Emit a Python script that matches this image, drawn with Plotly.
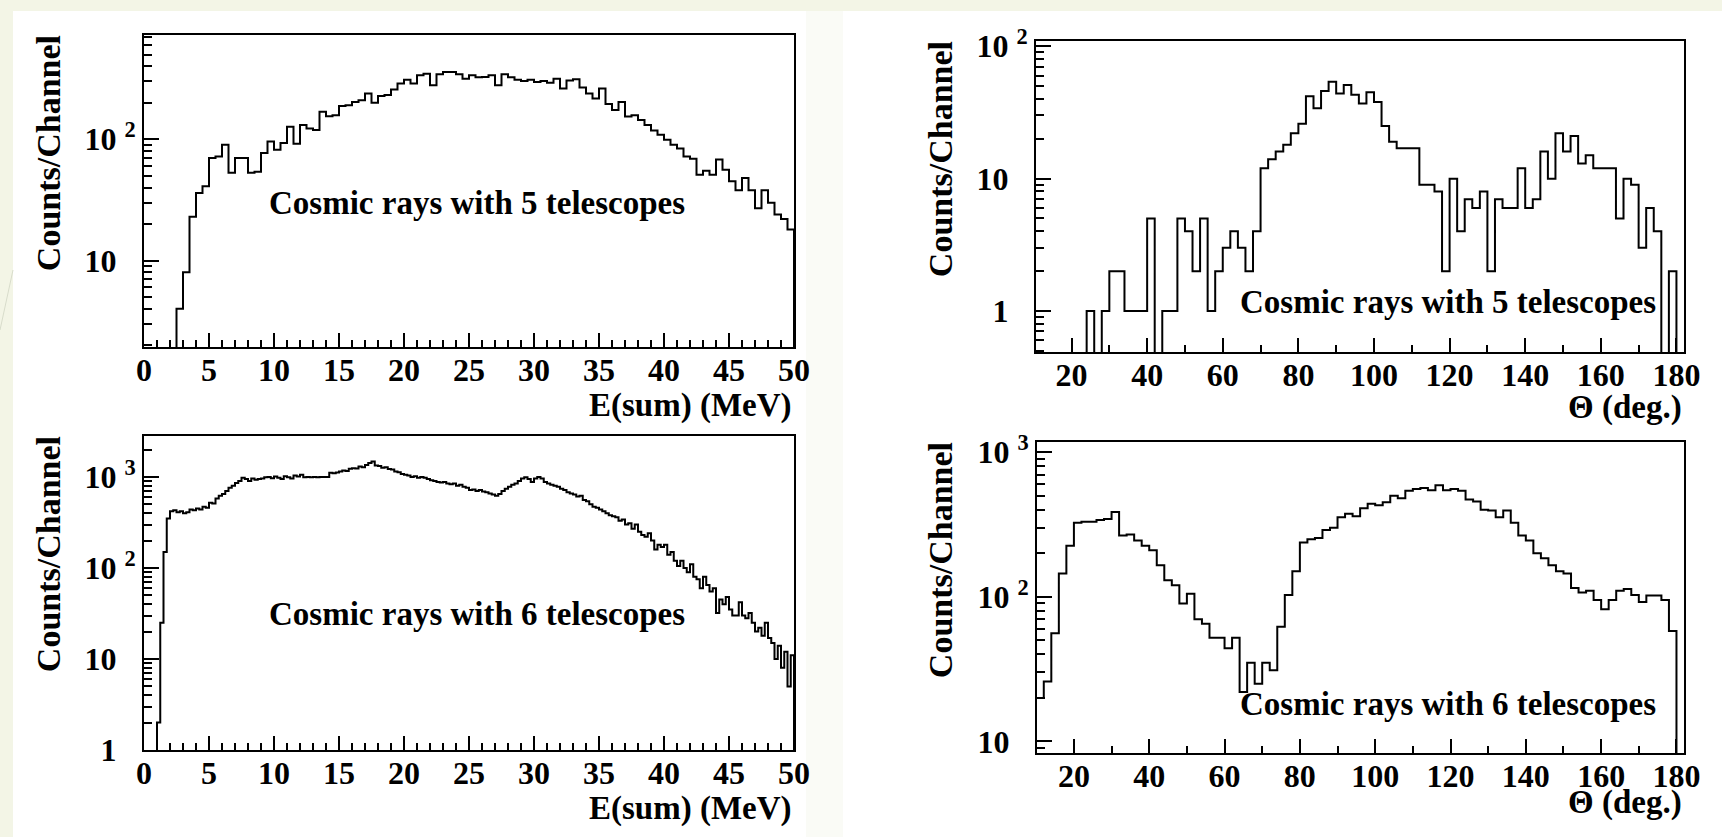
import plotly.graph_objects as go

W, H = 1722, 837

# ---------------- data ----------------
# Top-left: E(sum) with 5 telescopes, 0.5 MeV channels from 0 MeV
e5_start, e5_width = 0.0, 0.5
e5_counts = [0, 0, 0, 0, 0,
             4, 8, 23, 36, 41, 70, 72, 90, 53, 70,
             70, 53, 54, 77, 96, 82, 93, 127, 92, 131,
             123, 119, 169, 155, 158, 188, 191, 203, 210, 238,
             200, 228, 232, 257, 288, 310, 288, 337, 347, 279,
             343, 359, 359, 343, 316, 337, 324, 327, 337, 279,
             343, 324, 310, 303, 310, 297, 303, 292, 316, 262,
             306, 312, 267, 238, 217, 262, 195, 174, 203, 154,
             158, 144, 131, 118, 109, 99, 90, 84, 72, 69,
             51, 55, 51, 68, 56, 45, 38, 48, 38, 27,
             38, 30, 24, 22, 18]

# Bottom-left: E(sum) with 6 telescopes, 0.25 MeV channels from 0 MeV
e6_start, e6_width = 0.0, 0.25
e6_counts = [0, 0, 0, 0,
             2, 25, 150, 350, 420, 430, 410, 420, 400, 410, 440, 430,
             450, 440, 470, 460, 520, 510, 580, 620, 650, 700, 760, 800,
             860, 900, 980, 950, 900, 960, 930, 950, 960, 990, 1000, 970,
             1010, 980, 950, 1020, 990, 960, 1040, 1010, 1060, 990, 1000, 990,
             1000, 990, 1000, 1000, 1000, 1110, 1100, 1120, 1150, 1180, 1160, 1230,
             1250, 1240, 1300, 1280, 1350, 1420, 1480, 1340, 1320, 1260, 1280, 1220,
             1210, 1150, 1130, 1080, 1060, 1040, 1000, 1020, 980, 1000, 980, 950,
             920, 900, 880, 870, 880, 850, 830, 850, 800, 820, 780, 760,
             720, 730, 700, 720, 690, 680, 660, 640, 620, 650, 700, 740,
             780, 820, 850, 900, 960, 990, 950, 880, 960, 1000, 960, 880,
             850, 820, 800, 780, 740, 720, 680, 660, 640, 610, 620, 560,
             540, 500, 470, 460, 440, 420, 400, 380, 370, 360, 330, 340,
             300, 310, 270, 300, 250, 230, 220, 240, 200, 160, 180, 170,
             180, 140, 150, 120, 105, 120, 100, 90, 110, 80, 75, 60,
             80, 65, 55, 60, 32, 45, 40, 48, 35, 30, 30, 42,
             30, 28, 32, 25, 20, 22, 18, 25, 17, 15, 10, 14,
             8, 12, 5, 11]

# Top-right: Theta with 5 telescopes, 2 deg channels from 10 deg
t5_start, t5_width = 10.0, 2.0
t5_counts = [0, 0, 0, 0, 0, 0, 0,
             1, 0, 1, 2, 2, 1, 1, 1, 5, 0, 1, 1, 5, 4, 2, 5, 1, 2, 3, 4, 3, 2, 4,
             12, 14, 16, 18, 22, 26, 42, 34, 46, 54, 44, 51, 43, 37, 45, 38, 25,
             19, 17, 17, 17, 9, 9, 8, 2, 10, 4, 7, 6, 8, 2,
             7, 6, 6, 12, 6, 7, 16, 10, 22, 16, 21, 13, 15, 12, 12, 12, 5, 10,
             9, 3, 6, 4, 0, 2]

# Bottom-right: Theta with 6 telescopes, 2 deg channels from 10 deg
t6_start, t6_width = 10.0, 2.0
t6_counts = [20, 26, 56, 145, 225, 325, 330, 330, 340, 345,
             385, 265, 270, 245, 225, 210, 165, 130, 120, 90,
             105, 70, 65, 52, 52, 44, 52, 22, 35, 25,
             35, 31, 62, 103, 150, 237,
             250, 255, 290, 300, 355, 375, 360, 410, 440, 430,
             450, 500, 480, 540, 555, 565, 545, 590, 545, 555,
             540, 470, 455, 400, 395, 355, 395, 325, 265, 245,
             200, 185, 165, 150, 145, 115, 107, 110, 95, 82,
             95, 110, 113, 103, 92, 102, 102, 95, 58]

# tick values / labels
e_major = [0, 5, 10, 15, 20, 25, 30, 35, 40, 45, 50]
e_minor = [v for v in range(0, 51) if v % 5]
t_major = [20, 40, 60, 80, 100, 120, 140, 160, 180]
t_minor = [30, 50, 70, 90, 110, 130, 150, 170]
log_major = [1, 10, 100, 1000]
log_labels = ["1\u00a0<sup>\u2007</sup>", "10\u00a0<sup>\u2007</sup>",
              "10\u00a0<sup>2</sup>", "10\u00a0<sup>3</sup>"]
log_minor = [m * 10 ** e for e in range(-1, 4) for m in range(2, 10)]

ylabel = "Counts/Channel"
label5 = "Cosmic rays with 5 telescopes"
label6 = "Cosmic rays with 6 telescopes"
xlabel_e = "E(sum) (MeV)"
xlabel_t = "\u0398 (deg.)"

# ---------------- layout helpers ----------------
def px_x(p):
    return p / W

def px_y(p):
    return 1 - p / H

FONT = "Liberation Serif"
XTICK_SIZE = 32
YTICK_SIZE = 32
YTITLE_SIZE = 34

panels = [
    dict(c=e5_counts, s=e5_start, w=e5_width, bx=(144, 794), by=(35, 347),
         xr=[0, 50], yr=[0.287, 2.86], xmaj=e_major, xmin=e_minor,
         txt=label5, tpos=(477, 203), xl=xlabel_e, xlpos=(794, 405), ylx=48),
    dict(c=t5_counts, s=t5_start, w=t5_width, bx=(1036, 1684), by=(41, 352),
         xr=[10.6, 182], yr=[-0.31, 2.04], xmaj=t_major, xmin=t_minor,
         txt=label5, tpos=(1448, 302), xl=xlabel_t, xlpos=(1684, 408), ylx=940),
    dict(c=e6_counts, s=e6_start, w=e6_width, bx=(144, 794), by=(436, 750),
         xr=[0, 50], yr=[0.0, 3.45], xmaj=e_major, xmin=e_minor,
         txt=label6, tpos=(477, 614), xl=xlabel_e, xlpos=(794, 808), ylx=48),
    dict(c=t6_counts, s=t6_start, w=t6_width, bx=(1037, 1684), by=(442, 753),
         xr=[10.2, 182], yr=[0.92, 3.07], xmaj=t_major, xmin=t_minor,
         txt=label6, tpos=(1448, 704), xl=xlabel_t, xlpos=(1684, 802), ylx=940),
]

fig = go.Figure()
annotations = []
layout = {}

for i, p in enumerate(panels, start=1):
    n = len(p["c"])
    edges = [p["s"] + k * p["w"] for k in range(n + 1)]
    ys = [v if v > 0 else 1e-3 for v in p["c"]]
    xs = edges + [edges[-1]]
    yy = ys + [ys[-1], 1e-3]
    sfx = "" if i == 1 else str(i)
    fig.add_trace(go.Scatter(
        x=xs, y=yy, mode="lines", line=dict(color="black", width=2, shape="hv"),
        xaxis="x" + sfx, yaxis="y" + sfx, showlegend=False, hoverinfo="skip"))

    lo = 10 ** p["yr"][0]
    hi = 10 ** p["yr"][1]
    maj = [v for v in log_major if lo <= v <= hi]
    lab = [log_labels[log_major.index(v)] for v in maj]
    mino = [v for v in log_minor if lo <= v <= hi]

    layout["xaxis" + sfx] = dict(
        domain=[px_x(p["bx"][0]), px_x(p["bx"][1])], range=p["xr"],
        anchor="y" + sfx, showgrid=False, zeroline=False, automargin=False,
        showline=True, linecolor="black", linewidth=2, mirror=True,
        ticks="inside", ticklen=14, tickwidth=2, tickcolor="black",
        tickmode="array", tickvals=p["xmaj"], ticktext=[str(v) for v in p["xmaj"]],
        tickfont=dict(family=FONT, size=XTICK_SIZE, color="black", weight="bold"),
        ticklabelstandoff=-6,
        minor=dict(ticks="inside", ticklen=7, tickwidth=2, tickcolor="black",
                   tickmode="array", tickvals=p["xmin"], showgrid=False),
    )
    layout["yaxis" + sfx] = dict(
        domain=[px_y(p["by"][1]), px_y(p["by"][0])], range=p["yr"], type="log",
        anchor="x" + sfx, showgrid=False, zeroline=False, automargin=False,
        showline=True, linecolor="black", linewidth=2, mirror=True,
        ticks="inside", ticklen=15, tickwidth=2, tickcolor="black",
        tickmode="array", tickvals=maj, ticktext=lab,
        tickfont=dict(family=FONT, size=YTICK_SIZE, color="black", weight="bold"),
        ticklabelstandoff=0,
        minor=dict(ticks="inside", ticklen=8, tickwidth=2, tickcolor="black",
                   tickmode="array", tickvals=mino, showgrid=False),
    )

    annotations.append(dict(
        text="<b>" + p["txt"] + "</b>", x=px_x(p["tpos"][0]), y=px_y(p["tpos"][1]),
        xref="paper", yref="paper", xanchor="center", yanchor="middle",
        showarrow=False, font=dict(family=FONT, size=33, color="black")))
    annotations.append(dict(
        text="<b>" + p["xl"] + "</b>", x=px_x(p["xlpos"][0]), y=px_y(p["xlpos"][1]),
        xref="paper", yref="paper", xanchor="right", yanchor="middle",
        showarrow=False, font=dict(family=FONT, size=33, color="black")))
    title_len = 6.95 * YTITLE_SIZE
    annotations.append(dict(
        text="<b>" + ylabel + "</b>", x=px_x(p["ylx"]),
        y=px_y(p["by"][0] + title_len / 2),
        xref="paper", yref="paper", xanchor="center", yanchor="middle",
        textangle=-90, showarrow=False,
        font=dict(family=FONT, size=YTITLE_SIZE, color="black")))

cream = "#f3f5e6"
shapes = [
    dict(type="rect", xref="paper", yref="paper", x0=0, x1=px_x(13), y0=0, y1=1,
         fillcolor=cream, line=dict(width=0), layer="below"),
    dict(type="rect", xref="paper", yref="paper", x0=0, x1=1, y0=px_y(11), y1=1,
         fillcolor=cream, line=dict(width=0), layer="below"),
    dict(type="rect", xref="paper", yref="paper", x0=px_x(806), x1=px_x(843),
         y0=0, y1=px_y(11), fillcolor="#fafbf6", line=dict(width=0), layer="below"),
    dict(type="line", xref="paper", yref="paper", x0=px_x(0), y0=px_y(330),
         x1=px_x(13), y1=px_y(270), line=dict(color="#d8dccb", width=1), layer="below"),
]

fig.update_layout(
    template="none",
    width=W, height=H, margin=dict(l=0, r=0, t=0, b=0, pad=0, autoexpand=False),
    paper_bgcolor="white", plot_bgcolor="white",
    annotations=annotations, shapes=shapes, showlegend=False,
    **layout,
)

fig.write_html("out.html")
